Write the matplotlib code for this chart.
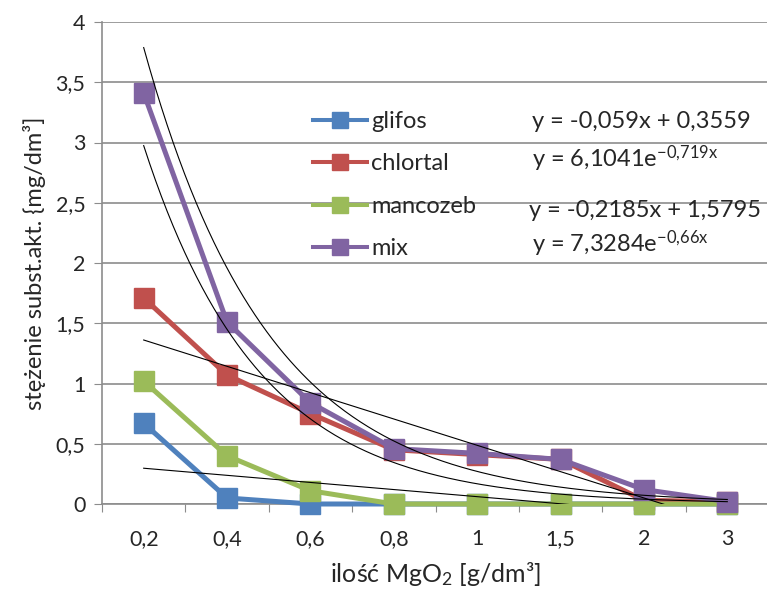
import matplotlib
matplotlib.use("Agg")
import matplotlib.pyplot as plt
import numpy as np
from matplotlib.lines import Line2D

plt.rcParams['font.family'] = ['Lato', 'DejaVu Sans']
plt.rcParams['mathtext.fontset'] = 'custom'
plt.rcParams['mathtext.rm'] = 'Lato'
plt.rcParams['mathtext.it'] = 'Lato:italic'

# ---- data ----
categories = ["0,2", "0,4", "0,6", "0,8", "1", "1,5", "2", "3"]
glifos = [0.67, 0.05, 0.0, 0.0, 0.0, 0.0, 0.0, 0.0]
chlortal = [1.71, 1.07, 0.75, 0.45, 0.41, 0.37, 0.03, 0.02]
mancozeb = [1.02, 0.40, 0.11, 0.0, 0.0, 0.0, 0.0, 0.0]
mix = [3.41, 1.51, 0.84, 0.46, 0.42, 0.37, 0.12, 0.02]
series_names = ["glifos", "chlortal", "mancozeb", "mix"]
colors = ["#4F81BD", "#C0504D", "#9BBB59", "#8064A2"]

# trendline coefficients (Excel x = category index 1..8)
lin_glifos = (-0.059, 0.3559)
exp_chlortal = (6.1041, -0.719)
lin_mancozeb = (-0.2185, 1.5795)
exp_mix = (7.3284, -0.66)
equations = ["y = -0,059x + 0,3559",
             "y = 6,1041e$\\mathregular{^{-0{,}719x}}$",
             "y = -0,2185x + 1,5795",
             "y = 7,3284e$\\mathregular{^{-0{,}66x}}$"]

y_ticks = [0, 0.5, 1, 1.5, 2, 2.5, 3, 3.5, 4]
y_ticklabels = ["0", "0,5", "1", "1,5", "2", "2,5", "3", "3,5", "4"]

# ---- figure ----
W, H = 767, 592
fig = plt.figure(figsize=(W/100, H/100), dpi=100)
ax = fig.add_axes([102/W, 1-504/H, 667/W, (504-22)/H])

txt = "#262626"
grid = "#8C8C8C"
x = np.arange(len(categories))

for vals, c in zip([glifos, chlortal, mancozeb, mix], colors):
    ax.plot(x, vals, color=c, lw=3.6, marker='s', ms=14, mfc=c, mec=c,
            solid_capstyle='round', clip_on=False, zorder=3)

# trendlines
t = np.linspace(1, 8, 300)
for a, b in [lin_glifos, lin_mancozeb]:
    ax.plot(t - 1, a*t + b, color='black', lw=0.8, zorder=4)
for A, k in [exp_chlortal, exp_mix]:
    ax.plot(t - 1, A*np.exp(k*t), color='black', lw=0.8, zorder=4)

ax.set_xlim(-0.5, len(categories) - 0.5)
ax.set_ylim(0, 4)
ax.set_yticks(y_ticks)
ax.set_yticklabels(y_ticklabels)
ax.set_xticks(np.arange(len(categories)+1) - 0.5)
ax.set_xticklabels([])
ax.set_xticks(x, minor=True)
ax.set_xticklabels(categories, minor=True)
ax.tick_params(axis='x', which='major', length=6, color=grid, direction='out')
ax.tick_params(axis='x', which='minor', length=0, pad=18, labelsize=15.5, labelcolor=txt)
ax.tick_params(axis='y', length=6, color=grid, labelsize=15.5, labelcolor=txt, pad=6)

ax.yaxis.grid(True, color=grid, lw=1.2)
ax.set_axisbelow(True)
for s in ['top', 'right']:
    ax.spines[s].set_visible(False)
for s in ['left', 'bottom']:
    ax.spines[s].set_color(grid)
    ax.spines[s].set_linewidth(1.2)

ax.set_ylabel("stężenie subst.akt. {mg/dm³]", fontsize=17, color=txt, labelpad=7)
ax.set_xlabel("ilość MgO$\\mathregular{_2}$ [g/dm³]", fontsize=18, color=txt, labelpad=8)

handles = [Line2D([0], [0], color=c, lw=2.9, marker='s', ms=11, mfc=c, mec=c)
           for c in colors]
leg = fig.legend(handles, series_names, loc='upper left',
                 bbox_to_anchor=(313/W, 1-111/H), frameon=False,
                 fontsize=17, handlelength=2.3, handletextpad=0.17,
                 labelspacing=0.91, borderpad=0, borderaxespad=0,
                 labelcolor=txt)

eq_base = [128, 167, 217, 252]
eq_x = [532, 532, 529, 532]
for s, xx, yy in zip(equations, eq_x, eq_base):
    fig.text(xx/W, 1-yy/H, s, fontsize=17, color=txt, va='baseline', ha='left')

fig.savefig("out.png", dpi=100)
